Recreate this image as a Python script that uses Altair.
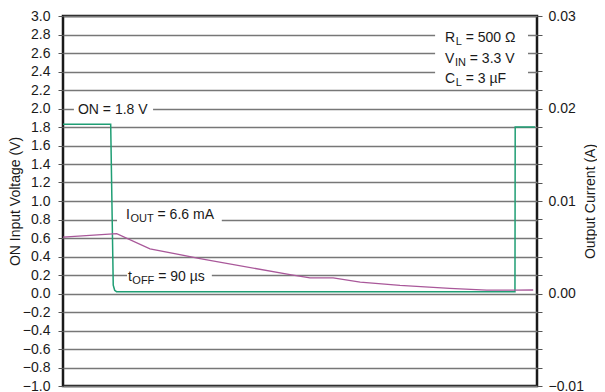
import altair as alt
import pandas as pd

# ---- data (time axis in µs, unlabelled) ----
t_on = [0, 100.6, 106, 109, 113, 953.5, 954, 996]
v_on = [1.83, 1.83, 0.09, 0.035, 0.02, 0.02, 1.8, 1.8]

t_iout = [0, 113.3, 183.5, 289, 479, 521, 570, 627, 711, 816, 894, 954, 992]
i_out = [0.00609, 0.00648, 0.00483, 0.00378, 0.00203, 0.00168, 0.00168,
         0.00123, 0.00087, 0.00056, 0.00036, 0.00036, 0.00038]

v_ticks = [-1.0, -0.8, -0.6, -0.4, -0.2, 0.0, 0.2, 0.4, 0.6, 0.8, 1.0,
           1.2, 1.4, 1.6, 1.8, 2.0, 2.2, 2.4, 2.6, 2.8, 3.0]
i_ticks = [-0.01, -0.008, -0.006, -0.004, -0.002, 0.0, 0.002, 0.004, 0.006,
           0.008, 0.01, 0.012, 0.014, 0.016, 0.018, 0.02, 0.022, 0.024,
           0.026, 0.028, 0.03]

# annotations: main text, subscript, remainder (after a space)
ann_x = [31.6, 133.0, 137.0, 806.0, 806.0, 806.0]
ann_y = [1.98, 0.845, 0.18, 2.76, 2.53, 2.32]
ann_main = ["ON = 1.8 V", "I", "t", "R", "V", "C"]
ann_sub = ["", "OUT", "OFF", "L", "IN", "L"]
ann_rest = ["", "= 6.6 mA", "= 90 µs", "= 500 Ω", "= 3.3 V", "= 3 µF"]

# white boxes behind annotation texts (break the grid lines)
box_x1 = [23, 114, 135, 785]
box_x2 = [190, 335, 314, 981]
box_y1 = [1.92, 0.72, 0.10, 2.25]
box_y2 = [2.08, 0.92, 0.28, 2.93]

FONT = "Liberation Sans"
TXT = "#1a1a1a"
MAIN_SIZE = 14
SUB_SIZE = 11

W = {'R': 722, 'L': 556, 'V': 667, 'I': 278, 'N': 722, 'C': 722, 'O': 778,
     'U': 722, 'T': 611, 't': 278, 'F': 611, ' ': 278, '=': 584, '.': 278,
     'Ω': 768, 'µ': 556, 'm': 833, 'A': 667, 's': 500}


def tw(s, size):
    return sum(W.get(c, 556) for c in s) * size / 1000.0


xs = alt.Scale(domain=[0, 1000], nice=False, zero=False)
vs = alt.Scale(domain=[-1, 3], nice=False, zero=False)
cs = alt.Scale(domain=[-0.01, 0.03], nice=False, zero=False)

left_axis = alt.Axis(
    values=v_ticks, format=".1f", grid=True, gridColor="#777777", gridWidth=1.3,
    tickColor="#555555", tickSize=5, tickWidth=1, domain=False,
    labelFont=FONT, labelFontSize=14, labelColor=TXT, labelPadding=8,
    labelOverlap=False,
    title="ON Input Voltage (V)", titleFont=FONT, titleFontSize=14,
    titleFontWeight="normal", titleColor=TXT, titlePadding=0,
)
right_axis = alt.Axis(
    orient="right", values=i_ticks, grid=False, domain=False,
    labelExpr="abs(datum.value*100 - round(datum.value*100)) < 0.001 ? format(datum.value, '.2f') : ''",
    tickColor="#555555", tickSize=5, tickWidth=1,
    labelFont=FONT, labelFontSize=14, labelColor=TXT, labelPadding=6,
    labelOverlap=False,
    title="Output Current (A)", titleFont=FONT, titleFontSize=14,
    titleFontWeight="normal", titleColor=TXT, titlePadding=0,
    titleAngle=270, titleBaseline="top",
)

on_df = pd.DataFrame({"t": t_on, "v": v_on})
iout_df = pd.DataFrame({"t": t_iout, "i": i_out})
box_df = pd.DataFrame({"x1": box_x1, "x2": box_x2, "y1": box_y1, "y2": box_y2})
ann_df = pd.DataFrame({"x": ann_x, "y": ann_y, "main": ann_main,
                       "sub": ann_sub, "rest": ann_rest})

X = alt.X("t:Q", scale=xs, axis=None)
Yv = alt.Y("v:Q", scale=vs, axis=left_axis, title="ON Input Voltage (V)")

boxes = alt.Chart(box_df).mark_rect(color="white").encode(
    x=alt.X("x1:Q", scale=xs, axis=None), x2="x2:Q",
    y=alt.Y("y1:Q", scale=vs, axis=left_axis, title="ON Input Voltage (V)"),
    y2="y2:Q",
)

on_line = alt.Chart(on_df).mark_line(color="#1f9e74", strokeWidth=1.5).encode(
    x=X, y=Yv, order="t:Q"
)

text_layers = []
Xa = alt.X("x:Q", scale=xs, axis=None)
Ya = alt.Y("y:Q", scale=vs, axis=left_axis, title="ON Input Voltage (V)")
text_layers.append(
    alt.Chart(ann_df).mark_text(align="left", baseline="middle", font=FONT,
                                fontSize=MAIN_SIZE, color=TXT)
    .encode(x=Xa, y=Ya, text="main:N")
)
for k in range(len(ann_main)):
    if not ann_sub[k]:
        continue
    row = ann_df.iloc[[k]]
    d_sub = tw(ann_main[k], MAIN_SIZE) + 0.5
    d_rest = d_sub + tw(ann_sub[k], SUB_SIZE) + tw(" ", MAIN_SIZE)
    text_layers.append(
        alt.Chart(row).mark_text(align="left", baseline="middle", font=FONT,
                                 fontSize=SUB_SIZE, color=TXT, dx=d_sub, dy=4)
        .encode(x=Xa, y=Ya, text="sub:N")
    )
    text_layers.append(
        alt.Chart(row).mark_text(align="left", baseline="middle", font=FONT,
                                 fontSize=MAIN_SIZE, color=TXT, dx=d_rest)
        .encode(x=Xa, y=Ya, text="rest:N")
    )

volt = alt.layer(boxes, on_line, *text_layers)

cur = alt.Chart(iout_df).mark_line(color="#a9589a", strokeWidth=1.3).encode(
    x=X, y=alt.Y("i:Q", scale=cs, axis=right_axis, title="Output Current (A)"),
    order="t:Q",
)

chart = (
    alt.layer(volt, cur)
    .resolve_scale(y="independent")
    .properties(
        width=474, height=370,
        autosize=alt.AutoSizeParams(type="none"),
        padding={"left": 55, "top": 8, "right": 60, "bottom": 10},
        background="white",
    )
    .configure_view(stroke="#1a1a1a", strokeWidth=2.5)
)

chart.save("out.html", embed_options={"renderer": "svg", "actions": False})
